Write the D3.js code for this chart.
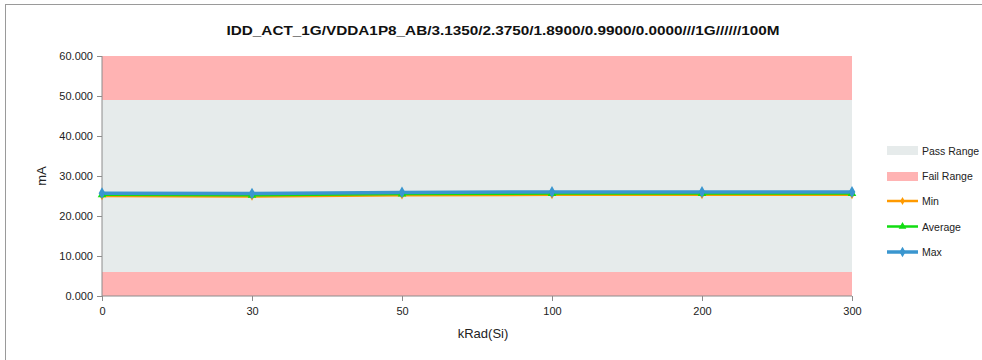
<!DOCTYPE html>
<html><head><meta charset="utf-8">
<script src="https://cdn.jsdelivr.net/npm/d3@7/dist/d3.min.js"></script>
<style>
body{margin:0;background:#fff;}
text{font-family:"Liberation Sans",Arial,sans-serif;}
</style></head>
<body><svg id="c" width="982" height="360"></svg>
<script>
const title = "IDD_ACT_1G/VDDA1P8_AB/3.1350/2.3750/1.8900/0.9900/0.0000///1G//////100M";
const categories = ["0","30","50","100","200","300"];
const minVals = [25.0, 24.9, 25.2, 25.3, 25.3, 25.3];
const avgVals = [25.3, 25.2, 25.5, 25.6, 25.6, 25.6];
const maxVals = [25.7, 25.6, 25.9, 26.0, 26.0, 26.0];
const passRange = [6, 49];
const failRanges = [[0, 6], [49, 60]];
const yTicks = [0, 10, 20, 30, 40, 50, 60];

const svg = d3.select("#c");
svg.append("rect").attr("x",5.5).attr("y",4.5).attr("width",990).attr("height",400)
  .attr("fill","none").attr("stroke","#9a9a9a").attr("stroke-width",1);

const L=102, R=852, T=56, B=296;
const x = d3.scalePoint().domain(categories).range([L,R]);
const y = d3.scaleLinear().domain([0,60]).range([B,T]);

svg.append("rect").attr("x",L).attr("width",R-L).attr("y",y(passRange[1])).attr("height",y(passRange[0])-y(passRange[1])).attr("fill","#E6EBEB");
failRanges.forEach(f=>{
  svg.append("rect").attr("x",L).attr("width",R-L).attr("y",y(f[1])).attr("height",y(f[0])-y(f[1])).attr("fill","#FFB3B3");
});

const yAxis = d3.axisLeft(y).tickValues(yTicks).tickFormat(d3.format(".3f")).tickSize(5).tickPadding(4);
const gy = svg.append("g").attr("transform",`translate(${L},0)`).call(yAxis);
const xAxis = d3.axisBottom(x).tickSize(5).tickPadding(6);
const gx = svg.append("g").attr("transform",`translate(0,${B})`).call(xAxis);
[gx,gy].forEach(g=>{
  g.selectAll("path,line").attr("stroke","#8c8c8c");
  g.selectAll("text").attr("font-size","11px").attr("fill","#222").style("font-family",'"Liberation Sans",Arial,sans-serif');
});
gx.select(".domain").attr("d",`M${L},0H${R}`);
gy.select(".domain").attr("d",`M0,${T}V${B}`);

svg.append("text").attr("x",503).attr("y",35).attr("text-anchor","middle").attr("font-size","13px").attr("font-weight","bold").attr("fill","#111")
  .attr("textLength",553).attr("lengthAdjust","spacingAndGlyphs").text(title);
svg.append("text").attr("x",483).attr("y",338).attr("text-anchor","middle").attr("font-size","13px").attr("fill","#222").text("kRad(Si)");
svg.append("text").attr("transform","translate(46,176) rotate(-90)").attr("text-anchor","middle").attr("font-size","13px").attr("fill","#222").text("mA");

const series = [
  {name:"Min", vals:minVals, color:"#FF9A00", w:2.5, sym:d3.symbolDiamond, size:22},
  {name:"Average", vals:avgVals, color:"#11DD11", w:2.5, sym:d3.symbolTriangle, size:32},
  {name:"Max", vals:maxVals, color:"#3A96CF", w:3.5, sym:d3.symbolDiamond, size:40}
];
const line = d3.line().x((d,i)=>x(categories[i])).y(d=>y(d));
series.forEach(s=>{
  svg.append("path").datum(s.vals).attr("d",line).attr("fill","none").attr("stroke",s.color).attr("stroke-width",s.w);
});
series.forEach(s=>{
  svg.selectAll(null).data(s.vals).enter().append("path")
    .attr("transform",(d,i)=>`translate(${x(categories[i])},${y(d)})`)
    .attr("d",d3.symbol().type(s.sym).size(s.size)).attr("fill",s.color);
});

const lx=887;
const leg = svg.append("g");
leg.append("rect").attr("x",lx).attr("y",146).attr("width",31).attr("height",9).attr("fill","#E6EBEB");
leg.append("text").attr("x",922).attr("y",155).attr("font-size","10.5px").attr("fill","#222").text("Pass Range");
leg.append("rect").attr("x",lx).attr("y",172).attr("width",31).attr("height",9).attr("fill","#FFB3B3");
leg.append("text").attr("x",922).attr("y",180).attr("font-size","10.5px").attr("fill","#222").text("Fail Range");
series.forEach((s,i)=>{
  const yy = 201 + i*25.5;
  leg.append("line").attr("x1",lx).attr("x2",lx+31).attr("y1",yy).attr("y2",yy).attr("stroke",s.color).attr("stroke-width",s.w);
  leg.append("path").attr("transform",`translate(${lx+15.5},${yy})`).attr("d",d3.symbol().type(s.sym).size(s.size*0.8)).attr("fill",s.color);
  leg.append("text").attr("x",922).attr("y",yy+4).attr("font-size","10.5px").attr("fill","#222").text(s.name);
});
</script></body></html>
